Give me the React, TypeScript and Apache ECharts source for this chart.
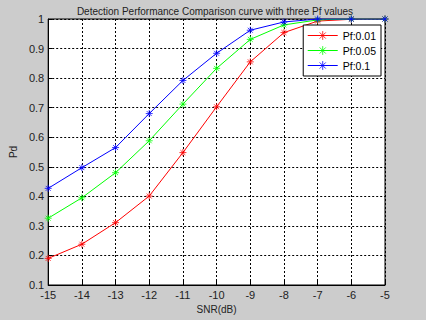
import React, { useEffect, useRef } from "react";
import * as echarts from "echarts";

const snr = [-15, -14, -13, -12, -11, -10, -9, -8, -7, -6, -5];
const pf001 = [0.19, 0.238, 0.311, 0.401, 0.548, 0.703, 0.855, 0.954, 0.993, 0.999, 1.0];
const pf005 = [0.326, 0.395, 0.48, 0.588, 0.712, 0.833, 0.931, 0.98, 0.997, 1.0, 1.0];
const pf01 = [0.427, 0.497, 0.565, 0.68, 0.792, 0.884, 0.962, 0.99, 1.0, 1.0, 1.0];
const seriesNames = ["Pf:0.01", "Pf:0.05", "Pf:0.1"];
const seriesColors = ["#ff0000", "#00ff00", "#0000ff"];

const STAR = "path://M0,-5L0,5M-5,0L5,0M-3.5,-3.5L3.5,3.5M-3.5,3.5L3.5,-3.5";

export default function App() {
  const ref = useRef<HTMLDivElement>(null);
  useEffect(() => {
    if (!ref.current) return;
    const chart = echarts.init(ref.current, null, { renderer: "svg" });
    const data = [pf001, pf005, pf01];
    const font = "Liberation Sans, Arial, sans-serif";
    chart.setOption({
      animation: false,
      backgroundColor: "#cccccc",
      textStyle: { fontFamily: font },
      title: {
        text: "Detection Performance Comparison curve with three Pf values",
        left: 210,
        textAlign: "center",
        top: 1,
        textStyle: { fontSize: 10, fontWeight: "normal", color: "#222", fontFamily: font },
      },
      legend: {
        orient: "vertical",
        right: 45,
        top: 25,
        backgroundColor: "#ffffff",
        borderColor: "#000",
        borderWidth: 1,
        borderRadius: 0,
        padding: [5, 5, 5, 4],
        itemGap: 4,
        itemWidth: 30,
        itemHeight: 11,
        lineStyle: { width: 1 },
        itemStyle: { borderWidth: 0.8 },
        textStyle: { fontSize: 10.5, color: "#000", fontFamily: font },
        data: seriesNames,
      },
      grid: {
        left: 47,
        right: 41,
        top: 19,
        bottom: 35,
        show: true,
        backgroundColor: "#ffffff",
        borderColor: "#000",
        borderWidth: 1,
      },
      xAxis: {
        type: "value",
        min: -15,
        max: -5,
        interval: 1,
        name: "SNR(dB)",
        nameLocation: "middle",
        nameGap: 17,
        nameTextStyle: { fontSize: 10, color: "#222", fontFamily: font },
        axisLine: { lineStyle: { color: "#000" } },
        axisTick: { inside: true, length: 4, lineStyle: { color: "#000" } },
        axisLabel: { fontSize: 11, color: "#222", margin: 4, fontFamily: font },
        splitLine: { show: true, lineStyle: { color: "#000", type: [2, 2], width: 1 } },
      },
      yAxis: {
        type: "value",
        min: 0.1,
        max: 1,
        interval: 0.1,
        name: "Pd",
        nameLocation: "middle",
        nameGap: 20,
        nameTextStyle: { fontSize: 10, color: "#222", fontFamily: font },
        axisLine: { show: true, lineStyle: { color: "#000" } },
        axisTick: { show: true, inside: true, length: 4, lineStyle: { color: "#000" } },
        axisLabel: {
          fontSize: 11,
          color: "#222",
          margin: 4,
          fontFamily: font,
          formatter: (v: number) => String(+v.toFixed(1)),
        },
        splitLine: { show: true, lineStyle: { color: "#000", type: [2, 2], width: 1 } },
      },
      series: data.map((arr, i) => ({
        name: seriesNames[i],
        type: "line",
        data: snr.map((x, j) => [x, arr[j]]),
        symbol: STAR,
        symbolSize: 7,
        showSymbol: true,
        lineStyle: { color: seriesColors[i], width: 1 },
        itemStyle: { color: seriesColors[i], borderColor: seriesColors[i], borderWidth: 0.8 },
        z: 2 + i,
      })),
    });
    return () => chart.dispose();
  }, []);
  return (
    <div
      ref={ref}
      style={{ position: "fixed", left: 0, top: 0, width: 426, height: 320 }}
    />
  );
}
